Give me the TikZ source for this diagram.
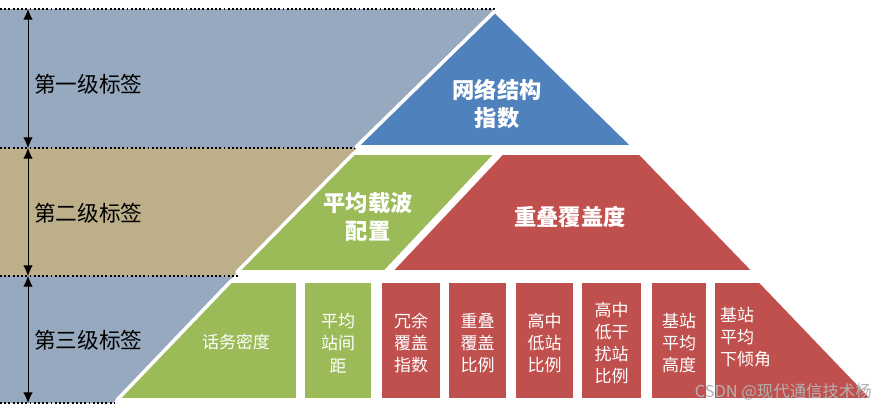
\documentclass[tikz,border=0pt]{standalone}
\usepackage{fontspec}
\setmainfont{Noto Sans CJK SC}
\usetikzlibrary{arrows.meta}
\definecolor{bandblue}{HTML}{97A9BF}
\definecolor{bandtan}{HTML}{BCAF89}
\definecolor{pblue}{HTML}{4F81BD}
\definecolor{pgreen}{HTML}{9BBB59}
\definecolor{pred}{HTML}{C0504D}
\tikzset{
  cell/.style={draw=white, line width=3pt, line join=round},
  title/.style={text=white, font=\bfseries\fontsize{19}{24}\selectfont, align=center},
  small/.style={text=white, font=\fontsize{14.5}{19}\selectfont, align=center},
  level/.style={font=\fontsize{18.5}{22}\selectfont, anchor=west},
  dim/.style={{Latex[length=9pt,width=8pt]}-{Latex[length=9pt,width=8pt]}, line width=0.8pt},
}
\begin{document}
\begin{tikzpicture}[x=0.03cm, y=-0.03cm]
\useasboundingbox (0,0) rectangle (886,415);
%bands
\fill[bandblue] (0,9) -- (495,9) -- (357,148) -- (0,148) -- cycle;
\fill[bandtan] (0,148) -- (357,148) -- (234,276) -- (0,276) -- cycle;
\fill[bandblue] (0,276) -- (234,276) -- (113,403) -- (0,403) -- cycle;
\foreach \y in {9,148,276,403}
  \draw[dotted, line width=1.6pt] (0,\y) -- (495-0.964*\y+0.964*9,\y);
\coordinate (m0) at (28,9);
\coordinate (m1) at (28,148);
\coordinate (m2) at (28,276);
\coordinate (m3) at (28,403);
\draw[dim] (m0) -- (m1);
\draw[dim] (m1) -- (m2);
\draw[dim] (m2) -- (m3);
\node[level] (l1) at (30,84) {第一级标签};
\node[level] (l2) at (30,213) {第二级标签};
\node[level] (l3) at (30,340) {第三级标签};
%level one
\draw[cell, fill=pblue] (495,11) -- (634,147) -- (356,147) -- cycle;
\node[title] (net) at (497,104) {网络结构\\指数};
%level two
\draw[cell, fill=pgreen] (354,153) -- (497,153) -- (385,272) -- (237,272) -- cycle;
\node[title] (carrier) at (368,217) {平均载波\\配置};
\draw[cell, fill=pred] (502,153) -- (640,153) -- (755,272) -- (390,272) -- cycle;
\node[title] (overlap) at (570,217) {重叠覆盖度};
%level three
\draw[cell, fill=pgreen] (231,281) -- (298,281) -- (298,400) -- (117,400) -- cycle;
\node[small] (traffic) at (236,342) {话务密度};
\draw[cell, fill=pgreen] (303,281) rectangle (373,400);
\node[small] (dist) at (338,343) {平均\\站间\\距};
\foreach \xa/\xb/\txt/\nm in {380/442/冗余\\覆盖\\指数/c1, 447/508/重叠\\覆盖\\比例/c2, 514/575/高中\\低站\\比例/c3, 580/643/高中\\低干\\扰站\\比例/c4, 650/708/基站\\平均\\高度/c5}{
  \draw[cell, fill=pred] (\xa,281) rectangle (\xb,400);
  \node[small] (\nm) at ({(\xa+\xb)/2},343) {\txt};
}
\draw[cell, fill=pred] (713,281) -- (760,281) -- (874,400) -- (713,400) -- cycle;
\node[small, align=left, anchor=west] (tilt) at (716,337) {基站\\平均\\下倾角};
\node[text=gray!60, font=\fontsize{14}{16}\selectfont, anchor=east, inner sep=0pt] (mark) at (872,392) {CSDN @现代通信技术杨};
\end{tikzpicture}
\end{document}
